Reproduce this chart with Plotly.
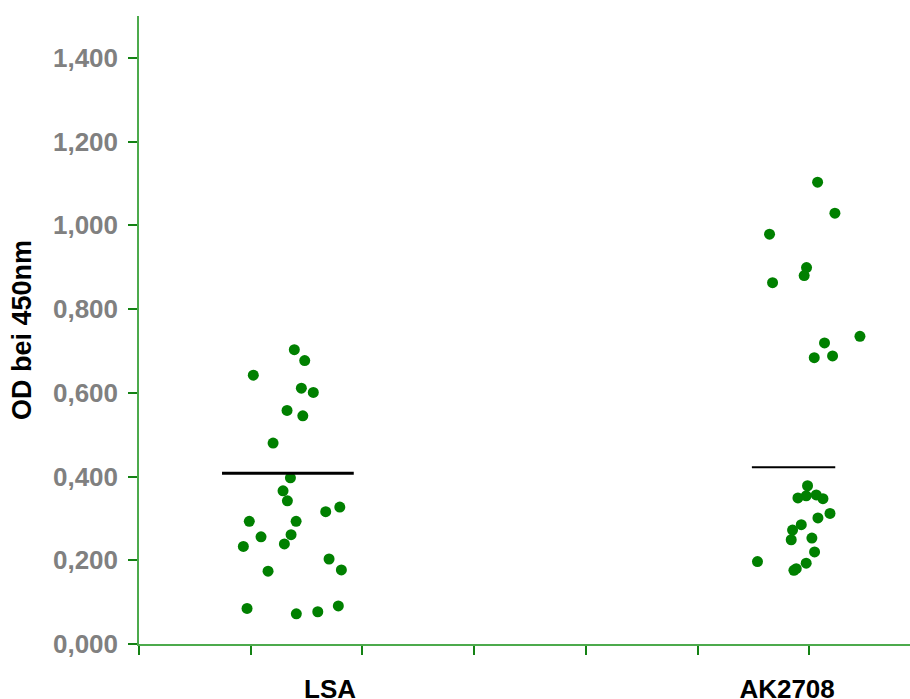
import plotly.graph_objects as go

# ---- data ----
categories = ["LSA", "AK2708"]
category_pos = [1.71, 5.80]          # label positions on the x scale

lsa_values = [0.703, 0.677, 0.642, 0.611, 0.601, 0.558, 0.545, 0.480,
              0.397, 0.366, 0.342, 0.316, 0.327, 0.293, 0.293, 0.256,
              0.261, 0.233, 0.239, 0.203, 0.177, 0.174, 0.085, 0.072,
              0.077, 0.091]
lsa_x = [1.390, 1.483, 1.023, 1.453, 1.560, 1.325, 1.466, 1.200,
         1.355, 1.289, 1.328, 1.671, 1.797, 0.987, 1.406, 1.092,
         1.361, 0.934, 1.301, 1.701, 1.811, 1.155, 0.967, 1.408,
         1.600, 1.784]

ak_values = [1.103, 1.029, 0.979, 0.899, 0.880, 0.863, 0.735, 0.719,
             0.684, 0.688, 0.378, 0.349, 0.354, 0.356, 0.347, 0.312,
             0.301, 0.285, 0.272, 0.249, 0.253, 0.220, 0.197, 0.193,
             0.176, 0.180]
ak_x = [6.073, 6.228, 5.643, 5.974, 5.953, 5.670, 6.452, 6.135,
        6.043, 6.207, 5.983, 5.897, 5.971, 6.061, 6.121, 6.184,
        6.076, 5.927, 5.849, 5.837, 6.022, 6.046, 5.535, 5.971,
        5.861, 5.882]

line_values = [0.408, 0.422]
line_x0 = [0.743, 5.485]
line_x1 = [1.922, 6.231]

y_ticks = [0.0, 0.2, 0.4, 0.6, 0.8, 1.0, 1.2, 1.4]

# ---- styles ----
GREEN_AXIS = "rgb(76,170,76)"
GREEN_TICK = "rgb(20,130,20)"
DOT = "#008000"
FONT = "Liberation Sans, Arial, sans-serif"

fig = go.Figure()

fig.add_trace(go.Scatter(x=lsa_x, y=lsa_values, mode="markers",
                         marker=dict(color=DOT, size=11, line=dict(width=0)),
                         name=categories[0], showlegend=False))
fig.add_trace(go.Scatter(x=ak_x, y=ak_values, mode="markers",
                         marker=dict(color=DOT, size=11, line=dict(width=0)),
                         name=categories[1], showlegend=False))

widths = [3, 2]
for i in range(len(line_values)):
    fig.add_trace(go.Scatter(x=[line_x0[i], line_x1[i]],
                             y=[line_values[i], line_values[i]],
                             mode="lines", line=dict(color="black", width=widths[i]),
                             showlegend=False, hoverinfo="skip"))

fig.update_layout(
    width=910, height=699,
    margin=dict(l=139, r=0, t=16, b=55, autoexpand=False),
    paper_bgcolor="white", plot_bgcolor="white",
    separators=",.",
    showlegend=False,
    xaxis=dict(
        range=[0, 6.9], showgrid=False, zeroline=False, automargin=False,
        showline=True, linecolor=GREEN_AXIS, linewidth=1.5,
        tickmode="array", tickvals=category_pos, ticktext=categories,
        ticks="outside", ticklen=21, tickcolor="rgba(0,0,0,0)",
        tickfont=dict(family=FONT, size=26, color="black", weight="bold"),
        minor=dict(tickmode="linear", tick0=0, dtick=1, ticks="outside",
                   ticklen=9, tickcolor=GREEN_TICK, tickwidth=1.5, showgrid=False),
    ),
    yaxis=dict(
        range=[0, 1.5], showgrid=False, zeroline=False, automargin=False,
        showline=True, linecolor=GREEN_AXIS, linewidth=1.5,
        tickmode="array", tickvals=y_ticks, tickformat=".3f",
        ticks="outside", ticklen=9, tickcolor=GREEN_TICK, tickwidth=1.5,
        ticklabelstandoff=5,
        tickfont=dict(family=FONT, size=26, color="gray", weight="bold"),
        title=dict(text="OD bei 450nm", standoff=14,
                   font=dict(family=FONT, size=27, color="black", weight="bold")),
    ),
)

fig.write_html("out.html")
